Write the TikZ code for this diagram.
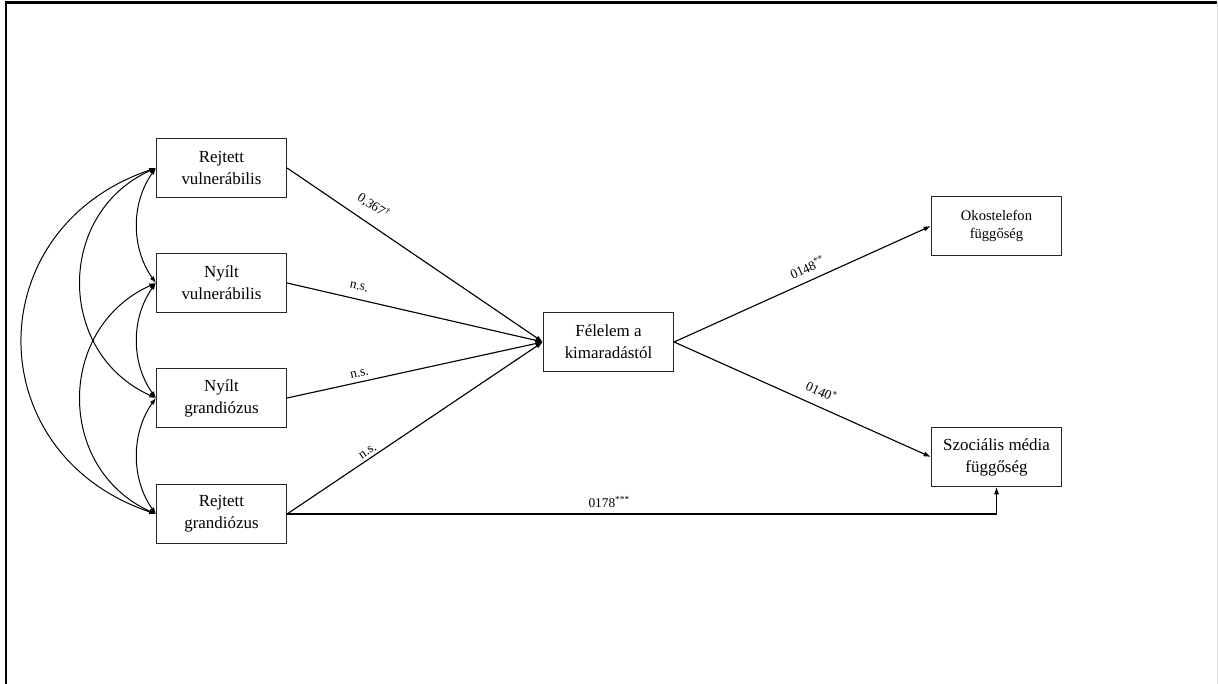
\documentclass[tikz,border=0pt]{standalone}
\usepackage{fontspec}
\setmainfont{Liberation Serif}
\usetikzlibrary{arrows.meta}
\begin{document}
\begin{tikzpicture}[x=0.75pt,y=-0.75pt,
  var/.style={draw=black!85,line width=0.9pt,fill=white,align=center,inner sep=0pt,
    minimum width=97.5pt,minimum height=44pt,
    font=\fontsize{12.7}{16.5}\selectfont},
  smallvar/.style={var,font=\fontsize{10.9}{13.7}\selectfont},
  path/.style={line width=0.85pt,-{Latex[length=5.5pt,width=3.8pt]}},
  cov/.style={line width=0.75pt,{Latex[length=5pt,width=3.6pt]}-{Latex[length=5pt,width=3.6pt]}},
  coef/.style={sloped,inner sep=0pt,font=\fontsize{10}{12}\selectfont}]
\useasboundingbox (0,0) rectangle (1218,684);
% page frame
\draw[line width=1.9pt] (6,684) -- (6,2.5) -- (1217,2.5);
\draw[black!12,line width=0.8pt] (1217.3,2.5) -- (1217.3,684);

% predictors
\node[var] (rv) at (221.5,168) {Rejtett\\vulnerábilis};
\node[var] (nv) at (221.5,283) {Nyílt\\vulnerábilis};
\node[var] (ng) at (221.5,398) {Nyílt\\grandiózus};
\node[var] (rg) at (221.5,514) {Rejtett\\grandiózus};
% mediator and outcomes
\node[var] (fomo) at (608.5,342) {Félelem a\\kimaradástól};
\node[smallvar] (oko) at (996.5,226) {Okostelefon\\függőség};
\node[var] (szm) at (996.5,457) {Szociális média\\függőség};

% paths to the mediator
\draw[path] (rv.east) -- node[coef,pos=0.3,above=7.8pt] {0,367\textsuperscript{†}} (fomo.west);
\draw[path] (nv.east) -- node[coef,pos=0.27,above=6.5pt] {n.s.} (fomo.west);
\draw[path] (ng.east) -- node[coef,pos=0.29,above=3.5pt] {n.s.} (fomo.west);
\draw[path] (rg.east) -- node[coef,pos=0.33,above=2pt] {n.s.} (fomo.west);
% paths to the outcomes
\draw[path] (fomo.east) -- node[coef,pos=0.54,above=5.5pt] {0148\textsuperscript{**}} (oko.west);
\draw[path] (fomo.east) -- node[coef,pos=0.55,above=7pt] {0140\textsuperscript{*}} (szm.west);
\draw[path] (rg.east) -| node[coef,pos=0.227,above=4.5pt] {0178\textsuperscript{***}} (szm.south);

% covariances among the predictors
\draw[cov] (rv.west) .. controls +(-25,35) and +(-25,-35) .. (nv.west);
\draw[cov] (nv.west) .. controls +(-25,35) and +(-25,-35) .. (ng.west);
\draw[cov] (ng.west) .. controls +(-25,35) and +(-25,-35) .. (rg.west);
\draw[cov] (rv.west) .. controls +(-100,45) and +(-100,-45) .. (ng.west);
\draw[cov] (nv.west) .. controls +(-100,45) and +(-100,-45) .. (rg.west);
\draw[cov] (rv.west) .. controls +(-178,60) and +(-178,-60) .. (rg.west);
\end{tikzpicture}
\end{document}
